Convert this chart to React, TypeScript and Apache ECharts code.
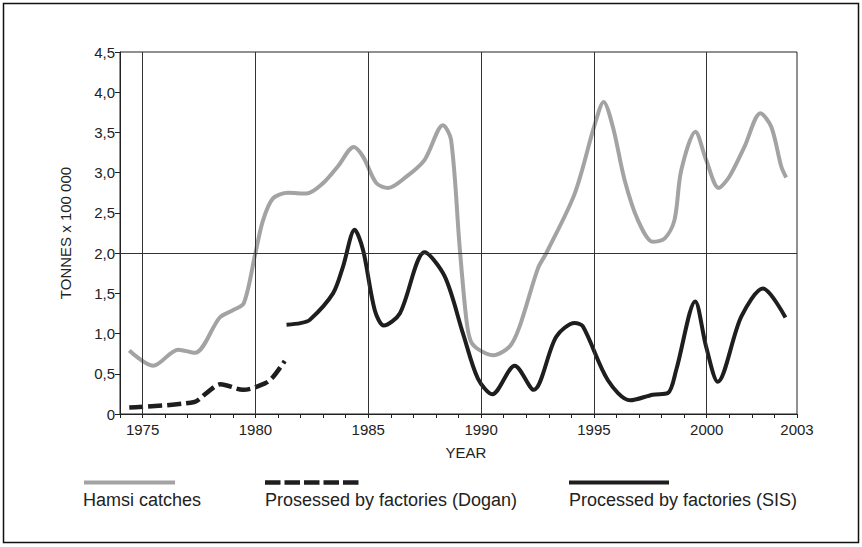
import React, { useEffect, useRef } from "react";
import * as echarts from "echarts";

// Hamsi catches (grey)
const hamsiYears = [1974.41, 1975.47, 1976.58, 1977.32, 1978.42, 1979.0, 1979.49, 1980.0, 1980.34, 1980.78, 1981.45, 1982.26, 1983.0, 1983.66, 1984.36, 1984.77, 1985.36, 1985.88, 1986.69, 1987.5, 1988.31, 1988.67, 1989.05, 1989.35, 1989.55, 1989.9, 1990.53, 1991.27, 1991.71, 1992.52, 1992.89, 1994.15, 1995.03, 1995.43, 1995.84, 1996.36, 1996.95, 1997.61, 1998.13, 1998.57, 1998.87, 1999.5, 1999.97, 2000.53, 2001.0, 2001.67, 2002.38, 2002.86, 2003.3, 2003.52];
const hamsiValues = [0.79, 0.6, 0.8, 0.76, 1.2, 1.29, 1.38, 2.0, 2.41, 2.68, 2.75, 2.74, 2.87, 3.08, 3.32, 3.2, 2.87, 2.81, 2.95, 3.16, 3.59, 3.41, 2.08, 1.17, 0.9, 0.8, 0.73, 0.84, 1.09, 1.81, 2.0, 2.74, 3.59, 3.88, 3.57, 2.91, 2.41, 2.14, 2.18, 2.41, 3.03, 3.51, 3.16, 2.81, 2.95, 3.32, 3.74, 3.57, 3.08, 2.94];

// Processed by factories (Dogan) (dashed)
const doganYears = [1974.41, 1977.3, 1977.83, 1978.45, 1979.46, 1980.42, 1980.78, 1981.3];
const doganValues = [0.08, 0.15, 0.26, 0.37, 0.3, 0.38, 0.46, 0.66];

// Processed by factories (SIS) (black)
const sisYears = [1981.38, 1982.0, 1982.41, 1983.44, 1983.88, 1984.4, 1984.77, 1985.29, 1985.69, 1986.4, 1987.5, 1988.39, 1989.2, 1989.86, 1990.5, 1991.49, 1992.33, 1993.33, 1994.15, 1994.51, 1995.62, 1996.61, 1997.61, 1998.28, 1998.65, 1999.49, 1999.97, 2000.49, 2001.53, 2002.49, 2003.49];
const sisValues = [1.11, 1.13, 1.17, 1.5, 1.83, 2.29, 2.04, 1.29, 1.1, 1.25, 2.01, 1.71, 1.0, 0.44, 0.245, 0.6, 0.3, 0.96, 1.13, 1.09, 0.42, 0.17, 0.24, 0.26, 0.55, 1.4, 0.84, 0.4, 1.21, 1.56, 1.2];

// Axis labelling
const labelYears = [1975, 1980, 1985, 1990, 1995, 2000, 2004];
const labelTexts = ["1975", "1980", "1985", "1990", "1995", "2000", "2003"];
const gridYears = [1975, 1980, 1985, 1990, 1995, 2000];
const gridValues = [2.0];

const seriesNames = ["Hamsi catches", "Prosessed by factories (Dogan)", "Processed by factories (SIS)"];

const FONT = "'Liberation Sans', Arial, sans-serif";
const GREY = "#a3a3a3";
const BLACK = "#1e1e1e";

const pairs = (xs: number[], ys: number[]) => xs.map((x, i) => [x, ys[i]]);

export default function App() {
  const ref = useRef<HTMLDivElement>(null);
  useEffect(() => {
    if (!ref.current) return;
    const chart = echarts.init(ref.current, undefined, { renderer: "svg" });
    const option: any = {
      animation: false,
      backgroundColor: "#ffffff",
      grid: {
        left: 120,
        top: 52,
        right: 65,
        bottom: 133,
        show: true,
        borderColor: "#222",
        borderWidth: 1,
        backgroundColor: "transparent",
      },
      xAxis: {
        type: "value",
        min: 1974,
        max: 2004,
        interval: 1,
        axisLine: { show: true, onZero: false, lineStyle: { color: "#222", width: 1 } },
        axisTick: { show: true, length: 4, lineStyle: { color: "#222" } },
        splitLine: { show: false },
        axisLabel: {
          show: true,
          showMinLabel: true,
          showMaxLabel: true,
          margin: 8,
          color: "#222",
          fontFamily: FONT,
          fontSize: 15,
          formatter: (v: number) => {
            const i = labelYears.indexOf(Math.round(v));
            return i >= 0 ? labelTexts[i] : "";
          },
        },
      },
      yAxis: {
        type: "value",
        min: 0,
        max: 4.5,
        interval: 0.5,
        name: "TONNES x 100 000",
        nameLocation: "middle",
        nameGap: 47,
        nameRotate: 90,
        nameTextStyle: { color: "#222", fontFamily: FONT, fontSize: 15 },
        axisLine: { show: true, lineStyle: { color: "#222", width: 1 } },
        axisTick: { show: true, length: 5, lineStyle: { color: "#222" } },
        splitLine: { show: false },
        axisLabel: {
          margin: 5,
          color: "#222",
          fontFamily: FONT,
          fontSize: 15,
          formatter: (v: number) => (v === 0 ? "0" : v.toFixed(1).replace(".", ",")),
        },
      },
      series: [
        {
          name: "gridlines",
          type: "line",
          data: [],
          z: 1,
          silent: true,
          markLine: {
            silent: true,
            symbol: ["none", "none"],
            label: { show: false },
            lineStyle: { color: "#333", width: 1, type: "solid" },
            data: [
              ...gridYears.map((y) => ({ xAxis: y })),
              ...gridValues.map((v) => ({ yAxis: v })),
            ],
          },
        },
        {
          name: seriesNames[0],
          type: "line",
          data: pairs(hamsiYears, hamsiValues),
          smooth: 0.3,
          showSymbol: false,
          z: 3,
          lineStyle: { color: GREY, width: 4 },
        },
        {
          name: seriesNames[1],
          type: "line",
          data: pairs(doganYears, doganValues),
          smooth: 0.3,
          showSymbol: false,
          z: 4,
          lineStyle: { color: BLACK, width: 4.5, type: [14, 5] },
        },
        {
          name: seriesNames[2],
          type: "line",
          data: pairs(sisYears, sisValues),
          smooth: 0.3,
          showSymbol: false,
          z: 4,
          lineStyle: { color: BLACK, width: 4 },
        },
      ],
      graphic: [
        {
          type: "rect",
          shape: { x: 3.5, y: 3.5, width: 855, height: 539 },
          style: { fill: "none", stroke: "#111", lineWidth: 1.5 },
          silent: true,
        },
        {
          type: "text",
          x: 466,
          y: 452,
          style: { text: "YEAR", fill: "#222", font: `15px ${FONT}`, align: "center", verticalAlign: "middle" },
        },
        { type: "line", shape: { x1: 84, y1: 482.5, x2: 175, y2: 482.5 }, style: { stroke: GREY, lineWidth: 4 } },
        { type: "line", shape: { x1: 265, y1: 482.5, x2: 359, y2: 482.5 }, style: { stroke: BLACK, lineWidth: 4.5, lineDash: [15.5, 4] } },
        { type: "line", shape: { x1: 569, y1: 482.5, x2: 669, y2: 482.5 }, style: { stroke: BLACK, lineWidth: 4 } },
        {
          type: "text",
          x: 83,
          y: 500,
          style: { text: seriesNames[0], fill: "#222", font: `18px ${FONT}`, align: "left", verticalAlign: "middle" },
        },
        {
          type: "text",
          x: 265,
          y: 500,
          style: { text: seriesNames[1], fill: "#222", font: `18px ${FONT}`, align: "left", verticalAlign: "middle" },
        },
        {
          type: "text",
          x: 569,
          y: 500,
          style: { text: seriesNames[2], fill: "#222", font: `18px ${FONT}`, align: "left", verticalAlign: "middle" },
        },
      ],
    };
    chart.setOption(option);
    return () => chart.dispose();
  }, []);
  return (
    <div
      ref={ref}
      style={{ position: "absolute", left: 0, top: 0, width: 862, height: 547, background: "#fff" }}
    />
  );
}
